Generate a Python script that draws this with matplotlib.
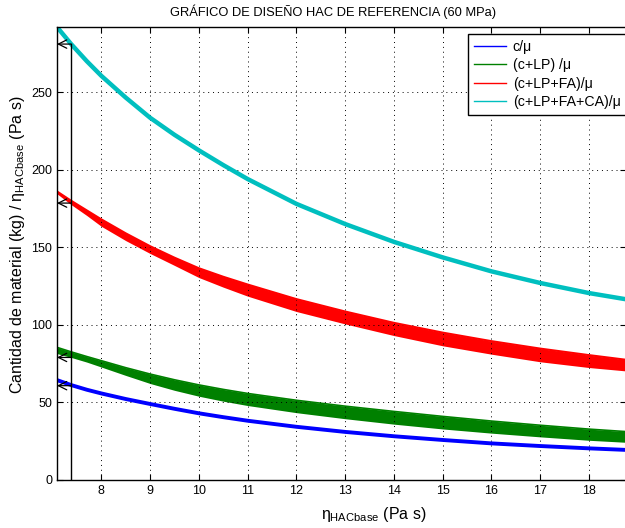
#!/usr/bin/env python3
"""
plot.py

Grafico de diseno HAC de referencia (60 MPa): cantidad de material / viscosidad.
"""

import matplotlib
matplotlib.use("Agg")
import matplotlib.pyplot as plt
from matplotlib.lines import Line2D

plt.rcParams["font.family"] = ["Liberation Sans", "DejaVu Sans"]
plt.rcParams["mathtext.fontset"] = "custom"
plt.rcParams["mathtext.rm"] = "Liberation Sans"
plt.rcParams["mathtext.it"] = "Liberation Sans"

# x values (Pa s)
eta = [7.09, 7.38, 7.7, 8, 8.5, 9, 9.5, 10, 10.5, 11, 12, 13, 14, 15, 16, 17, 18, 18.76]

# c / mu (single line)
c_mu = [64.4, 61.2, 58.2, 55.8, 52.2, 49.0, 45.9, 43.0, 40.5, 38.2, 34.3, 31.0, 28.2,
        25.8, 23.6, 21.9, 20.4, 19.4]

# (c+LP)/mu band
clp_hi = [85.5, 82.6, 79.6, 76.9, 72.4, 68.3, 64.6, 61.3, 58.4, 55.8, 51.4, 47.6, 44.2,
          41.0, 38.0, 35.3, 32.8, 31.2]
clp_lo = [81.5, 79.0, 76.0, 72.8, 67.4, 62.2, 57.8, 54.0, 50.8, 48.0, 43.4, 39.5, 36.0,
          32.9, 30.2, 27.8, 25.6, 24.3]

# (c+LP+FA)/mu band
clpfa_hi = [186.0, 180.0, 173.8, 168.0, 159.0, 150.7, 143.3, 136.5, 131.0, 126.0, 116.6,
            108.6, 101.3, 95.0, 89.5, 84.7, 80.5, 77.5]
clpfa_lo = [184.5, 177.5, 170.5, 163.5, 154.3, 146.0, 138.3, 130.5, 124.3, 118.5, 108.6,
            100.6, 93.1, 86.5, 81.1, 76.2, 72.5, 70.3]

# (c+LP+FA+CA)/mu (single line)
clpfaca = [292.0, 281.0, 270.0, 260.5, 246.5, 233.5, 222.5, 212.5, 203.0, 194.0, 178.0,
           165.0, 153.5, 143.5, 134.5, 127.0, 120.5, 116.5]

# design point and the values read on each curve
eta_design = 7.38
design_vals = [281.0, 178.5, 79.0, 60.8]

labels = ["c/\u03bc", "(c+LP) /\u03bc", "(c+LP+FA)/\u03bc", "(c+LP+FA+CA)/\u03bc"]
colors = ["#0000ff", "#008000", "#ff0000", "#00bfbf"]


def main():
    W, H = 625, 528
    fig = plt.figure(figsize=(W / 100, H / 100), dpi=100)
    ax = fig.add_axes([57 / W, 48 / H, (626 - 57) / W, (480 - 27) / H])

    ax.plot(eta, c_mu, color=colors[0], lw=2.8, solid_capstyle="butt")
    ax.fill_between(eta, clp_lo, clp_hi, color=colors[1], lw=0)
    ax.plot(eta, clp_hi, color=colors[1], lw=1.2)
    ax.fill_between(eta, clpfa_lo, clpfa_hi, color=colors[2], lw=0)
    ax.plot(eta, clpfa_hi, color=colors[2], lw=1.5)
    ax.plot(eta, clpfaca, color=colors[3], lw=3.2, solid_capstyle="butt")

    # vertical design line and arrows to the y axis
    ax.plot([eta_design, eta_design], [0, max(design_vals)], color="k", lw=1.0)
    for v in design_vals:
        ax.annotate("", xy=(eta[0], v), xytext=(eta_design, v),
                    arrowprops=dict(arrowstyle="->", color="k", lw=0.9,
                                    mutation_scale=15, shrinkA=0, shrinkB=0))

    ax.set_xlim(eta[0], eta[-1])
    ax.set_ylim(0, 292)
    ax.set_xticks(range(8, 19))
    ax.set_yticks(range(0, 251, 50))
    ax.tick_params(direction="in", top=True, right=True, length=4,
                   labelsize=9, width=0.8)
    ax.grid(True, color="k", linestyle=(0, (1, 4)), lw=0.7)
    for s in ax.spines.values():
        s.set_linewidth(1.0)

    handles = [Line2D([0], [0], color=c, lw=1.0) for c in colors]
    leg = ax.legend(handles, labels, loc="upper left",
                    bbox_to_anchor=(468 / W, 1 - 34 / H),
                    bbox_transform=fig.transFigure, borderaxespad=0,
                    fontsize=10.2, fancybox=False, framealpha=1,
                    edgecolor="k", handlelength=2.3, labelspacing=0.32,
                    borderpad=0.4, handletextpad=0.45)
    leg.get_frame().set_linewidth(1.0)

    fig.text(333 / W, 1 - 12 / H, "GR\u00c1FICO DE DISE\u00d1O HAC DE REFERENCIA (60 MPa)",
             ha="center", va="center", fontsize=9.3)
    fig.text(374 / W, 1 - 515 / H, r"$\eta_{\mathrm{HACbase}}$ (Pa s)",
             ha="center", va="center", fontsize=11.5)
    fig.text(18 / W, 1 - 245 / H,
             r"Cantidad de material (kg) / $\eta_{\mathrm{HACbase}}$ (Pa s)",
             ha="center", va="center", rotation=90, fontsize=11.5)

    fig.savefig("out.png", dpi=100)
    print("[+] Chart saved to out.png")


if __name__ == "__main__":
    main()
